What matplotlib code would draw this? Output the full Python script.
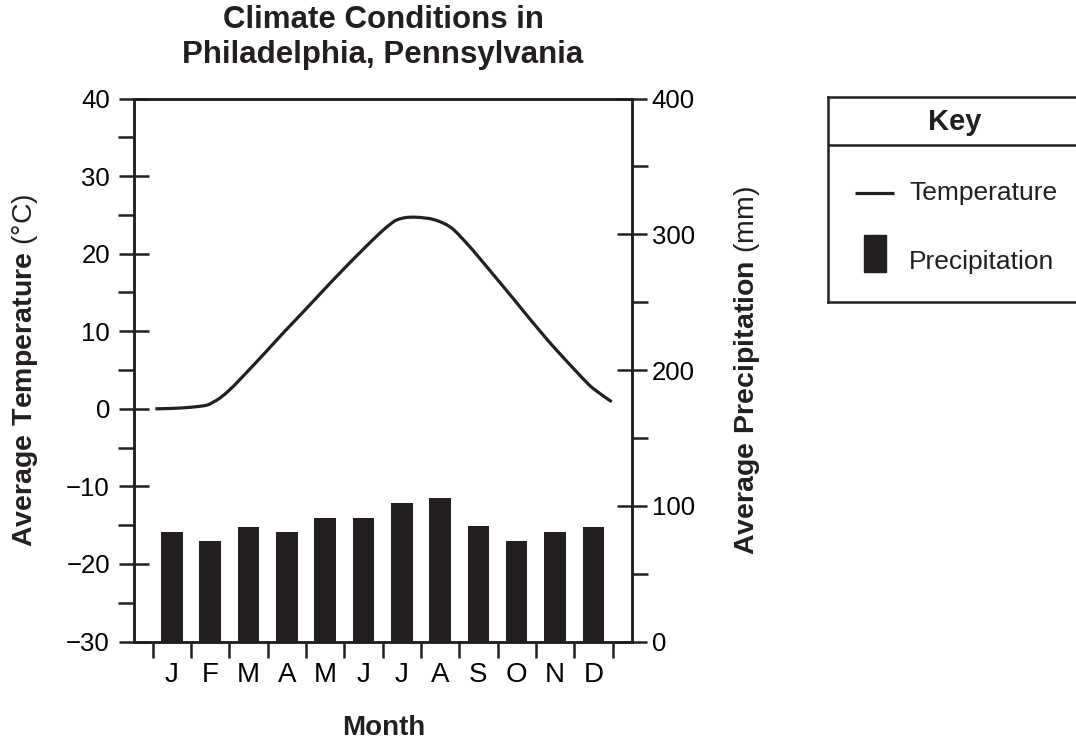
import matplotlib
matplotlib.use("Agg")
import numpy as np
import matplotlib.pyplot as plt
from matplotlib.patches import Rectangle, PathPatch
from matplotlib.path import Path
from matplotlib.ticker import MultipleLocator, FixedLocator

plt.rcParams['font.family'] = ['Liberation Sans', 'DejaVu Sans']
plt.rcParams['mathtext.fontset'] = 'custom'
plt.rcParams['mathtext.rm'] = 'Liberation Sans'
plt.rcParams['mathtext.bf'] = 'Liberation Sans:bold'

INK = '#231f20'

# --- data ---
months = ["J", "F", "M", "A", "M", "J", "J", "A", "S", "O", "N", "D"]
month_pos = list(range(1, 13))
precip_mm = [81, 74, 84, 81, 91, 91, 102, 106, 85, 74, 81, 84]

# temperature line, sampled along the drawn curve (month position, deg C)
temp_pos = [0.57, 1.0, 1.5, 1.91, 2.09, 2.26, 2.52, 2.78, 3.39, 3.91, 4.43,
            4.96, 5.48, 6.0, 6.44, 6.70, 6.87, 7.1, 7.35, 7.6, 7.83, 8.1,
            8.35, 8.7, 9.05, 9.91, 10.78, 11.65, 12.0, 12.48]
temp_c = [0.0, 0.05, 0.2, 0.47, 0.9, 1.4, 2.5, 3.8, 7.0, 9.8, 12.5,
          15.3, 18.0, 20.6, 22.7, 23.8, 24.35, 24.65, 24.7, 24.6, 24.4, 23.9,
          23.1, 21.3, 19.3, 14.2, 9.0, 4.3, 2.6, 0.9]


def smooth_path(xs, ys):
    # catmull-rom through the sampled points, written as cubic beziers
    pts = np.column_stack([xs, ys])
    verts = [pts[0]]
    codes = [Path.MOVETO]
    n = len(pts)
    for i in range(n - 1):
        p0 = pts[max(i - 1, 0)]
        p1 = pts[i]
        p2 = pts[i + 1]
        p3 = pts[min(i + 2, n - 1)]
        verts += [p1 + (p2 - p0) / 6, p2 - (p3 - p1) / 6, p2]
        codes += [Path.CURVE4] * 3
    return Path(verts, codes)


fig = plt.figure(figsize=(10.76, 7.43), dpi=100)
ax = fig.add_axes([0.1241, 0.1366, 0.463, 0.7308])
ax2 = ax.twinx()

# bars (precipitation, right axis) and temperature line (left axis)
ax2.bar(month_pos, precip_mm, width=0.56, color=INK, zorder=2)
ax.add_patch(PathPatch(smooth_path(temp_pos, temp_c), fill=False,
                       edgecolor=INK, lw=2.3, capstyle='butt', zorder=3))

ax.set_xlim(0, 13)
ax.set_ylim(-30, 40)
ax2.set_ylim(0, 400)

for a in (ax, ax2):
    for s in a.spines.values():
        s.set_linewidth(1.8)
        s.set_color(INK)

ax.set_yticks(range(-30, 41, 10))
ax.yaxis.set_minor_locator(MultipleLocator(5))
ax.tick_params(axis='y', which='major', direction='inout', length=22,
               width=1.8, color=INK, labelsize=18.5, pad=6)
ax.tick_params(axis='y', which='minor', direction='out', length=11.5,
               width=1.8, color=INK)

ax2.set_yticks(range(0, 401, 100))
ax2.yaxis.set_minor_locator(MultipleLocator(50))
ax2.tick_params(axis='y', which='major', direction='inout', length=22,
                width=1.8, color=INK, labelsize=18.5, pad=3.5)
ax2.tick_params(axis='y', which='minor', direction='out', length=11.5,
                width=1.8, color=INK)

ax.set_xticks(month_pos)
ax.set_xticklabels(months)
ax.xaxis.set_minor_locator(FixedLocator([m - 0.5 for m in month_pos] + [12.5]))
ax.tick_params(axis='x', which='major', length=0, labelsize=20, pad=14.5)
ax.tick_params(axis='x', which='minor', direction='out', length=11.5,
               width=1.8, color=INK)

# titles and axis labels
fig.text(0.356, 0.9495, "Climate Conditions in\nPhiladelphia, Pennsylvania",
         ha='center', va='center', fontsize=22.5, fontweight='bold',
         linespacing=1.2, color=INK)
fig.text(0.0232, 0.502, r"$\mathbf{Average\ Temperature}$ (°C)",
         rotation=90, ha='center', va='center', fontsize=20.5, color=INK)
fig.text(0.6947, 0.502, r"$\mathbf{Average\ Precipitation}$ (mm)",
         rotation=90, ha='center', va='center', fontsize=20.5, color=INK)
fig.text(0.3567, 0.0202, "Month", ha='center', va='center',
         fontsize=20, fontweight='bold', color=INK)

# key box
kx = fig.add_axes([828 / 1076, 1 - 301.7 / 743, 270 / 1076, 204.4 / 743])
kx.set_xlim(828, 1098)
kx.set_ylim(301.7, 97.3)
kx.set_xticks([])
kx.set_yticks([])
for s in kx.spines.values():
    s.set_linewidth(1.8)
    s.set_color(INK)
kx.axhline(145, color=INK, lw=1.8)
kx.text(955, 121.7, "Key", ha='center', va='center', fontsize=21,
        fontweight='bold', color=INK)
kx.plot([855, 894], [193, 193], color=INK, lw=2.3, solid_capstyle='butt')
kx.add_patch(Rectangle((864, 235), 22, 37, color=INK))
kx.text(909, 193, "Temperature", ha='left', va='center', fontsize=19,
        color=INK)
kx.text(909, 262, "Precipitation", ha='left', va='center', fontsize=19,
        color=INK)

fig.savefig("out.png", dpi=100)
